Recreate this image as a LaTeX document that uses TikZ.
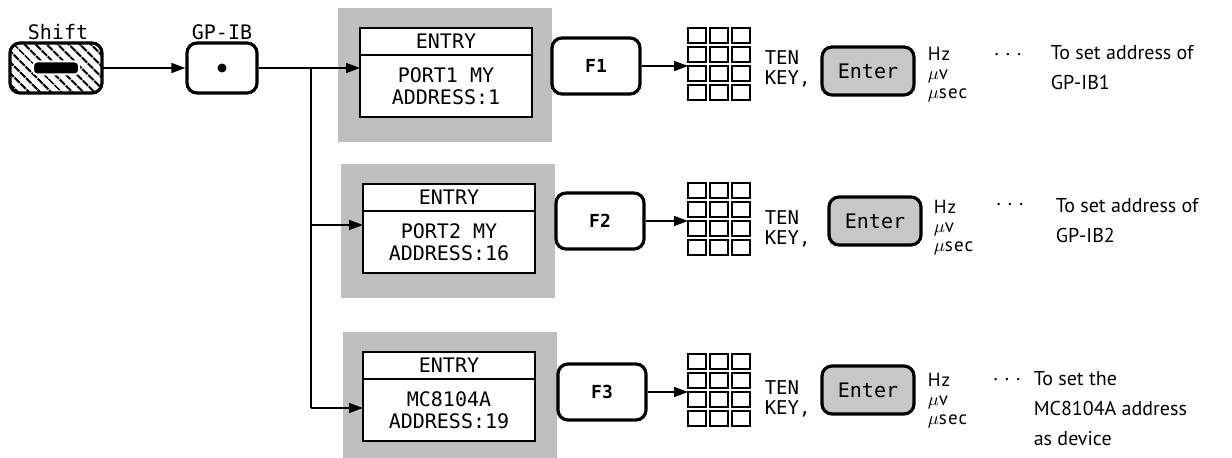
\documentclass[tikz,border=0pt]{standalone}
\usepackage{fontspec}
\setmainfont{PT Sans}
\setmonofont{DejaVu Sans Mono}
\newfontfamily\unitfont[LetterSpace=6]{PT Sans}
\usetikzlibrary{arrows.meta}
\usetikzlibrary{positioning}
\usetikzlibrary{patterns.meta}
\def\cellw{18}
\def\cellh{15}
% ten key pad: 3 x 4 small keys inside node #1
\newcommand\tenkeypad[1]{%
  \foreach \c in {0,1,2}
    \foreach \r in {0,...,3}
      \draw[line width=0.7pt] ([shift={(\c*22,\r*19)}]#1.north west) rectangle ++(\cellw,\cellh);
}

\begin{document}
\begin{tikzpicture}[x=0.5pt, y=-0.5pt, line width=0.8pt,
  arr/.style={-{Triangle[length=7pt,width=5pt]}},
  lbl/.style={inner sep=0pt, font=\ttfamily\fontsize{10}{11}\selectfont},
  keybox/.style={draw, rounded corners=5pt, line width=1.6pt, minimum width=44pt, minimum height=28pt, font=\ttfamily\bfseries\fontsize{9}{10}\selectfont},
  shade/.style={fill=black!25, minimum width=107pt, minimum height=67pt, inner sep=0pt},
  hdr/.style={draw, fill=white, outer sep=0pt, inner sep=0pt, minimum width=86pt, minimum height=13.5pt, font=\ttfamily\fontsize{10}{11}\selectfont},
  body/.style={draw, fill=white, outer sep=0pt, inner sep=0pt, minimum width=86pt, minimum height=31pt, align=center, font=\ttfamily\fontsize{10}{11}\selectfont},
  pad/.style={minimum width=31pt, minimum height=36pt, inner sep=0pt, outer sep=0pt},
  enter/.style={draw, rounded corners=5pt, line width=1.6pt, fill=black!22, minimum width=46pt, minimum height=24pt, font=\ttfamily\fontsize{10}{11}\selectfont},
  tenkey/.style={anchor=north west, inner sep=0pt, align=left, font=\ttfamily\fontsize{9.5}{10}\selectfont},
  unit/.style={anchor=north west, inner sep=0pt, align=left, font=\unitfont\fontsize{9.5}{9.5}\selectfont},
  dots/.style={inner sep=0pt, font=\fontsize{10}{10}\selectfont},
  note/.style={anchor=north west, inner sep=0pt, align=left, font=\fontsize{10}{15}\selectfont}]
\useasboundingbox (0,0) rectangle (1232,458);

% Shift and GP-IB keys
\node[draw, rounded corners=5pt, line width=1.6pt, minimum width=46pt, minimum height=25pt,
  pattern={Lines[angle=-45,distance=4pt,line width=1.2pt]}] (shift) at (56,68) {};
\node[fill=black, draw=white, line width=1pt, rounded corners=2pt, minimum width=23pt, minimum height=6.5pt, inner sep=0pt] (bar) at (shift) {};
\node[lbl] (shiftlbl) at (58,32) {Shift};
\node[draw, rounded corners=5pt, line width=1.6pt, minimum width=35pt, minimum height=25pt] (gpib) at (222,68) {};
\node[circle, fill, inner sep=0pt, minimum size=4.5pt] (gdot) at (gpib) {};
\node[lbl] (gpiblbl) at (222,32) {GP-IB};
\draw[arr] (shift) -- (gpib);

% entry displays
\node[shade] (s1) at (445,75) {};
\node[hdr] (e1h) at (446,41.5) {ENTRY};
\node[body, below=0pt of e1h] (e1b) {PORT1 MY\\ADDRESS:1};
\node[shade] (s2) at (448,231) {};
\node[hdr] (e2h) at (449,197.5) {ENTRY};
\node[body, below=0pt of e2h] (e2b) {PORT2 MY\\ADDRESS:16};
\node[shade] (s3) at (450,399) {};
\node[hdr] (e3h) at (449,365.5) {ENTRY};
\node[body, below=0pt of e3h] (e3b) {MC8104A\\ADDRESS:19};

% branching
\coordinate (jn) at (311,68);
\coordinate (j2) at (311,225);
\coordinate (j3) at (311,408);
\draw (gpib) -- (jn) -- (j3);
\draw[arr] (jn) -- (e1b.west |- jn);
\draw[arr] (j2) -- (e2b.west |- j2);
\draw[arr] (j3) -- (e3b.west |- j3);

% function keys
\node[keybox] (f1) at (596,66) {F1};
\node[keybox] (f2) at (600,221) {F2};
\node[keybox] (f3) at (602,392) {F3};

% ten keys
\node[pad] (k1) at (719,64) {};
\node[pad] (k2) at (719,219) {};
\node[pad] (k3) at (719,390) {};
\tenkeypad{k1}
\tenkeypad{k2}
\tenkeypad{k3}
\draw[arr] (f1.east) -- (f1.east -| k1.west);
\draw[arr] (f2.east) -- (f2.east -| k2.west);
\draw[arr] (f3.east) -- (f3.east -| k3.west);
\node[tenkey] (t1) at (764,50) {TEN\\KEY,};
\node[tenkey] (t2) at (764,210) {TEN\\KEY,};
\node[tenkey] (t3) at (764,380) {TEN\\KEY,};

% Enter keys and units
\node[enter] (ent1) at (868,71) {Enter};
\node[enter] (ent2) at (875,221) {Enter};
\node[enter] (ent3) at (868,390) {Enter};
\node[unit] (u1) at (927,46) {Hz\\$\mu$v\\$\mu$sec};
\node[unit] (u2) at (933,199) {Hz\\$\mu$v\\$\mu$sec};
\node[unit] (u3) at (927,372) {Hz\\$\mu$v\\$\mu$sec};
\node[dots] (d1) at (1008,55) {.\hspace{3.5pt}.\hspace{3.5pt}.};
\node[dots] (d2) at (1010,205) {.\hspace{3.5pt}.\hspace{3.5pt}.};
\node[dots] (d3) at (1007,380) {.\hspace{3.5pt}.\hspace{3.5pt}.};

% notes
\node[note] (n1) at (1050,45) {To set address of\\GP-IB1};
\node[note] (n2) at (1055,198) {To set address of\\GP-IB2};
\node[note] (n3) at (1033,371) {To set the\\MC8104A address\\as device};
\end{tikzpicture}
\end{document}
